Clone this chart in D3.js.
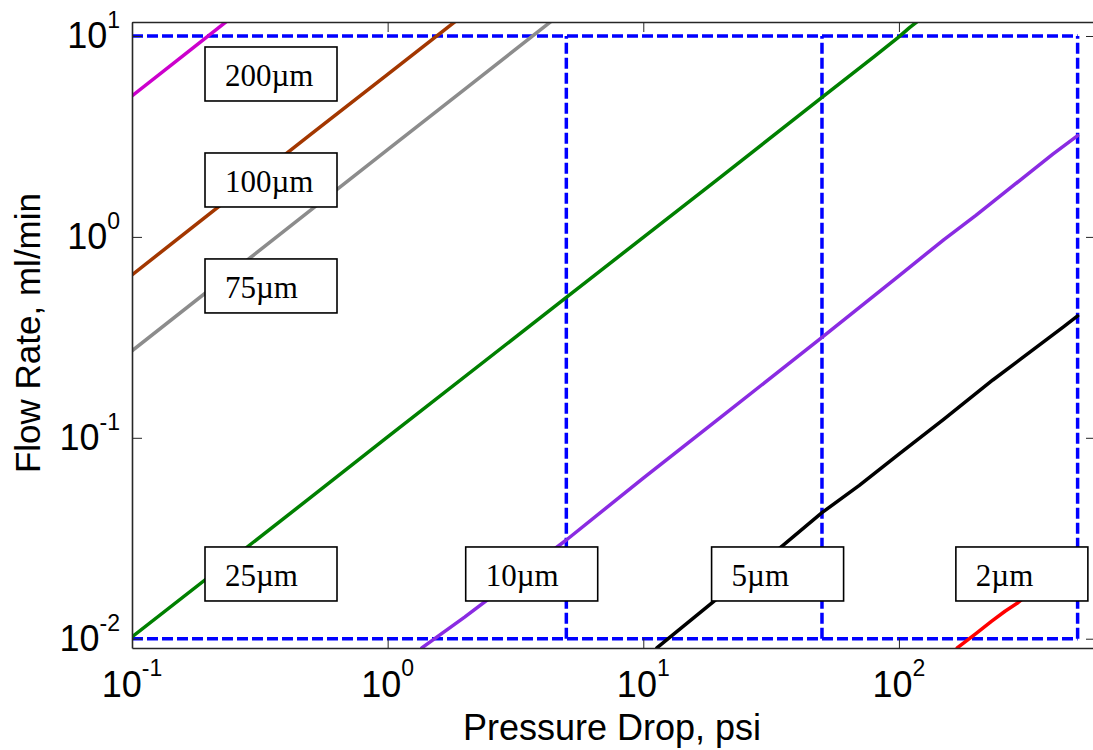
<!DOCTYPE html>
<html>
<head>
<meta charset="utf-8">
<script src="https://cdn.jsdelivr.net/npm/d3@7"></script>
<style>
  html, body { margin: 0; padding: 0; background: #fff; }
  svg { display: block; }
</style>
</head>
<body>
<svg id="chart" width="1093" height="750"></svg>
<script>
// Channel sizes and their measured flow-vs-pressure curves (psi, ml/min)
const sizes = ["200µm", "100µm", "75µm", "25µm", "10µm", "5µm", "2µm"];
const seriesColors = ["#cc00cc", "#a33700", "#8c8c8c", "#008000", "#8a2be2", "#000000", "#ff0000"];

const flow200 = [[0.1, 5.03], [0.16, 8.05], [0.24, 12.1]];
const flow100 = [[0.1, 0.647], [0.5, 3.24], [1.0, 6.45], [1.9, 12.2]];
const flow75  = [[0.1, 0.271], [0.5, 1.36], [1.0, 2.72], [2.0, 5.43], [4.5, 12.2]];
const flow25  = [[0.1, 0.0102], [0.5, 0.0505], [1.0, 0.101], [5, 0.50], [20, 1.98], [50, 4.95], [80, 7.9], [100, 9.9], [110, 11.0], [120, 12.0]];
const flow10  = [[1.36, 0.0090], [2, 0.0128], [5, 0.031], [10, 0.063], [20, 0.126], [50, 0.316], [100, 0.64], [150, 0.97], [200, 1.28], [260, 1.67], [320, 2.06], [400, 2.58], [500, 3.19]];
const flow5   = [[11.3, 0.0090], [20, 0.0163], [35, 0.0290], [50, 0.0424], [70, 0.0580], [100, 0.083], [150, 0.124], [233, 0.194], [300, 0.247], [380, 0.310], [440, 0.357], [500, 0.404]];
const flow2   = [[169, 0.0090], [200, 0.0106], [230, 0.0122], [260, 0.0137], [292, 0.0151], [360, 0.0188], [430, 0.0226], [500, 0.0262]];
const flowSeries = [flow200, flow100, flow75, flow25, flow10, flow5, flow2];

// Operating-window guides
const guidePressures = [5, 50, 500];
const guideFlows = [0.01, 10];
const guidePressureMin = 0.1;

// Label anchors (pressure, flow) for each size tag
const labelPressures = [0.193, 0.193, 0.193, 0.193, 2.02, 18.5, 167];
const labelFlows = [6.47, 1.92, 0.57, 0.021, 0.021, 0.021, 0.021];

// Axis decades
const xTickExponents = [-1, 0, 1, 2];
const yTickExponents = [-2, -1, 0, 1];

const svg = d3.select("#chart");
const mLeft = 132, mRight = 1096, mTop = 22, mBottom = 648;

const x = d3.scaleLog().domain([0.1, 590]).range([mLeft, mRight]);
const y = d3.scaleLog().domain([0.00899, 11.74]).range([mBottom, mTop]);

svg.append("defs").append("clipPath").attr("id", "plotClip")
  .append("rect").attr("x", mLeft).attr("y", mTop)
  .attr("width", mRight - mLeft).attr("height", mBottom - mTop);

const plot = svg.append("g").attr("clip-path", "url(#plotClip)");

// Dashed guide rectangle grid
const dash = { stroke: "#0000ff", width: 3.5, array: "11,4" };
guideFlows.forEach(q => {
  plot.append("line")
    .attr("x1", x(guidePressureMin)).attr("x2", x(d3.max(guidePressures)))
    .attr("y1", y(q)).attr("y2", y(q))
    .attr("stroke", dash.stroke).attr("stroke-width", dash.width)
    .attr("stroke-dasharray", dash.array);
});
guidePressures.forEach(p => {
  plot.append("line")
    .attr("x1", x(p)).attr("x2", x(p))
    .attr("y1", y(d3.min(guideFlows))).attr("y2", y(d3.max(guideFlows)))
    .attr("stroke", dash.stroke).attr("stroke-width", dash.width)
    .attr("stroke-dasharray", dash.array);
});

// Flow curves
const line = d3.line().x(d => x(d[0])).y(d => y(d[1]));
flowSeries.forEach((pts, i) => {
  plot.append("path")
    .attr("d", line(pts))
    .attr("fill", "none")
    .attr("stroke", seriesColors[i])
    .attr("stroke-width", 3.5)
    .attr("stroke-linejoin", "round")
    .attr("stroke-linecap", "round");
});

// Size tags
const boxW = 132, boxH = 54;
sizes.forEach((name, i) => {
  const bx = x(labelPressures[i]);
  const cy = y(labelFlows[i]);
  const g = svg.append("g");
  g.append("rect")
    .attr("x", bx).attr("y", cy - boxH / 2)
    .attr("width", boxW).attr("height", boxH)
    .attr("fill", "#fff").attr("stroke", "#000").attr("stroke-width", 1.6);
  g.append("text")
    .attr("x", bx + 20).attr("y", cy + 12)
    .attr("font-family", "'Liberation Serif', 'Times New Roman', serif")
    .attr("font-size", 31)
    .attr("fill", "#000")
    .text(name);
});

// Axes: inward major and minor ticks on all four sides
function decadeMinors(domain) {
  const lo = Math.floor(Math.log10(domain[0])), hi = Math.ceil(Math.log10(domain[1]));
  const out = [];
  for (let e = lo; e <= hi; e++) {
    for (let k = 2; k <= 9; k++) {
      const v = k * Math.pow(10, e);
      if (v >= domain[0] && v <= domain[1]) out.push(v);
    }
  }
  return out;
}
const xMajors = xTickExponents.map(e => Math.pow(10, e));
const yMajors = yTickExponents.map(e => Math.pow(10, e));
const xMinors = decadeMinors(x.domain());
const yMinors = decadeMinors(y.domain());

function drawAxis(gen, scale, majors, minors, transform) {
  const g = svg.append("g").attr("transform", transform);
  g.call(gen(scale).tickValues(minors).tickSize(-5).tickSizeOuter(0).tickFormat(""));
  g.call(gen(scale).tickValues(majors).tickSize(-10).tickSizeOuter(0).tickFormat(""));
  g.selectAll(".domain").attr("stroke", "#262626").attr("stroke-width", 1.6);
  g.selectAll(".tick line").attr("stroke", "#262626").attr("stroke-width", 1);
}
drawAxis(d3.axisBottom, x, xMajors, xMinors, `translate(0,${mBottom})`);
drawAxis(d3.axisTop, x, xMajors, xMinors, `translate(0,${mTop})`);
drawAxis(d3.axisLeft, y, yMajors, yMinors, `translate(${mLeft},0)`);
drawAxis(d3.axisRight, y, yMajors, yMinors, `translate(${mRight},0)`);

const sans = "'Liberation Sans', Arial, Helvetica, sans-serif";

// Tick labels as powers of ten
xTickExponents.forEach(e => {
  const t = svg.append("text")
    .attr("x", x(Math.pow(10, e))).attr("y", 697)
    .attr("text-anchor", "middle")
    .attr("font-family", sans).attr("font-size", 36).attr("fill", "#000");
  t.append("tspan").text("10");
  t.append("tspan").attr("dy", -21).attr("font-size", 23).text(String(e));
});
yTickExponents.forEach(e => {
  const t = svg.append("text")
    .attr("x", 120).attr("y", y(Math.pow(10, e)) + 12)
    .attr("text-anchor", "end")
    .attr("font-family", sans).attr("font-size", 36).attr("fill", "#000");
  t.append("tspan").text("10");
  t.append("tspan").attr("dy", -20).attr("font-size", 23).text(String(e));
});

// Axis titles
svg.append("text")
  .attr("x", (mLeft + mRight) / 2 - 2).attr("y", 740)
  .attr("text-anchor", "middle")
  .attr("font-family", sans).attr("font-size", 36).attr("fill", "#000")
  .text("Pressure Drop, psi");
svg.append("text")
  .attr("transform", "translate(40,333) rotate(-90)")
  .attr("text-anchor", "middle")
  .attr("font-family", sans).attr("font-size", 35).attr("fill", "#000")
  .text("Flow Rate, ml/min");
</script>
</body>
</html>
